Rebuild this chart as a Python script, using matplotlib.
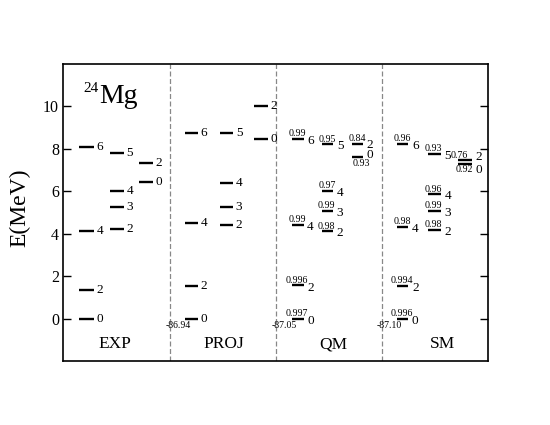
import matplotlib
matplotlib.use('Agg')
import matplotlib.pyplot as plt

plt.rcParams['font.family'] = ['Liberation Serif', 'DejaVu Serif']

# ---------------- data ----------------
panel_names = ['EXP', 'PROJ', 'QM', 'SM']

# spin of each level and the column it is drawn in (same ordering in every panel)
spins = [0, 2, 4, 6, 2, 3, 4, 5, 0, 2]
columns = [0, 0, 0, 0, 1, 1, 1, 1, 2, 2]

exp_E = [0.0, 1.37, 4.12, 8.11, 4.24, 5.24, 6.01, 7.81, 6.43, 7.35]
proj_E = [0.0, 1.55, 4.51, 8.75, 4.40, 5.27, 6.41, 8.75, 8.47, 10.03]
qm_E = [0.0, 1.56, 4.41, 8.48, 4.12, 5.08, 6.03, 8.22, 7.61, 8.23]
sm_E = [0.0, 1.55, 4.33, 8.23, 4.18, 5.08, 5.86, 7.76, 7.30, 7.47]

qm_amp = ['0.997', '0.996', '0.99', '0.99', '0.98', '0.99', '0.97', '0.95', '0.93', '0.84']
sm_amp = ['0.996', '0.994', '0.98', '0.96', '0.98', '0.99', '0.96', '0.93', '0.92', '0.76']

proj_gs = '-86.94'
qm_gs = '-87.05'
sm_gs = '-87.10'

yticks = [0, 2, 4, 6, 8, 10]

# ---------------- layout ----------------
col_edges = [
    [(0.148, 0.289), (0.440, 0.570), (0.713, 0.844)],
    [(0.145, 0.268), (0.474, 0.597), (0.794, 0.926)],
    [(0.150, 0.262), (0.432, 0.542), (0.717, 0.825)],
    [(0.138, 0.249), (0.430, 0.556), (0.715, 0.850)],
]
label_x = [0.49, 1.51, 2.54, 3.57]
amp_below = [False] * 8 + [True, False]
j_offsets = {(2, 8): 1.5, (2, 9): -0.8, (3, 8): -4.5, (3, 9): 2.5}
amp_dx = {(3, 9): -4.0, (2, 8): 2.5}

fig = plt.figure(figsize=(5.5, 4.25), dpi=100)
ax = fig.add_axes([0.1151, 0.1506, 0.7727, 0.6988])
ax.set_xlim(0, 4)
ax.set_ylim(-2, 12)

energies = [exp_E, proj_E, qm_E, sm_E]
amps = [None, None, qm_amp, sm_amp]
gs_labels = [None, proj_gs, qm_gs, sm_gs]

for p in range(4):
    E = energies[p]
    for i, (j, c, e) in enumerate(zip(spins, columns, E)):
        x0, x1 = col_edges[p][c]
        x0 += p
        x1 += p
        ax.hlines(e, x0, x1, colors='black', lw=1.7)
        gap = 2.0 if p < 2 else 2.5
        dy = j_offsets.get((p, i), 0.0 if p < 2 else -1.5)
        ax.annotate(str(j), xy=(x1, e), xytext=(gap, dy), textcoords='offset points',
                    ha='left', va='center', fontsize=9.5)
        if amps[p] is not None:
            xc = 0.5 * (x0 + x1)
            dx = amp_dx.get((p, i), -0.5)
            if amp_below[i]:
                ax.annotate(amps[p][i], xy=(xc, e), xytext=(dx, -1.2), textcoords='offset points',
                            ha='center', va='top', fontsize=7.2)
            else:
                ax.annotate(amps[p][i], xy=(xc, e), xytext=(dx, 0.4), textcoords='offset points',
                            ha='center', va='bottom', fontsize=7.2)
    if gs_labels[p] is not None:
        x0 = col_edges[p][0][0] + p
        ax.annotate(gs_labels[p], xy=(x0, E[0]), xytext=(4.0, -1.8), textcoords='offset points',
                    ha='right', va='top', fontsize=7)
    ax.text(label_x[p], -1.41, panel_names[p], ha='center', va='baseline', fontsize=12.5)

for xv in [1, 2, 3]:
    ax.axvline(xv, color='#888888', ls=(0, (4, 2)), lw=0.9)

ax.text(0.188, 10.67, '24', ha='left', va='baseline', fontsize=11)
ax.text(0.339, 10.15, 'Mg', ha='left', va='baseline', fontsize=20)

ax.set_yticks(yticks)
ax.set_xticks([])
ax.tick_params(axis='y', direction='in', length=6, width=1.0, left=True, right=True,
               labelsize=11.5, pad=3)
for s in ax.spines.values():
    s.set_linewidth(1.2)
ax.set_ylabel('E(MeV)', fontsize=17)
ax.yaxis.set_label_coords(-0.078, 0.515)

fig.savefig('out.png', dpi=100)
